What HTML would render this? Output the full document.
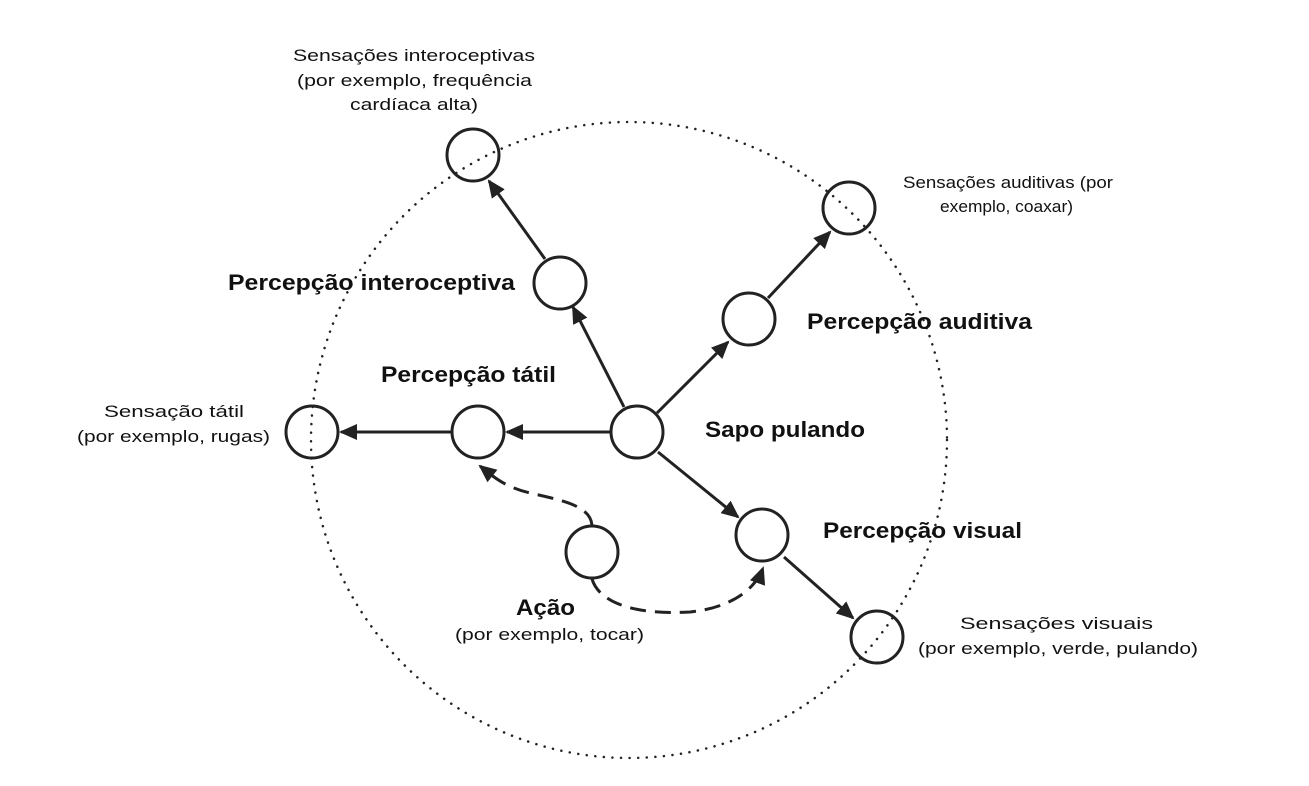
<!DOCTYPE html>
<html><head><meta charset="utf-8"><style>
html,body{margin:0;padding:0;background:#fff;}
svg{display:block;font-family:"Liberation Sans",Arial,sans-serif;}
.b{font-weight:bold;font-size:22px;fill:#111;}
.n{font-size:17px;fill:#111;}
</style></head><body>
<svg width="1309" height="786" viewBox="0 0 1309 786" xmlns="http://www.w3.org/2000/svg">
<defs>
<marker id="ab" markerWidth="18" markerHeight="18" refX="16" refY="9" orient="auto" markerUnits="userSpaceOnUse" viewBox="0 0 18 18">
<path d="M0,1 L18,9 L0,17 z" fill="#222"/>
</marker>
</defs>
<circle cx="629" cy="440" r="318" fill="none" stroke="#222" stroke-width="2.5" stroke-dasharray="0.1 8.5" stroke-linecap="round"/>
<g stroke="#222" stroke-width="3" fill="none">
<line x1="624" y1="407" x2="573" y2="307" marker-end="url(#ab)"/>
<line x1="545" y1="259" x2="489" y2="181" marker-end="url(#ab)"/>
<line x1="657" y1="413" x2="728" y2="342" marker-end="url(#ab)"/>
<line x1="768" y1="298" x2="830" y2="232" marker-end="url(#ab)"/>
<line x1="610" y1="432" x2="507" y2="432" marker-end="url(#ab)"/>
<line x1="451" y1="432" x2="341" y2="432" marker-end="url(#ab)"/>
<line x1="658" y1="452" x2="738" y2="517" marker-end="url(#ab)"/>
<line x1="784" y1="557" x2="853" y2="618" marker-end="url(#ab)"/>
<path d="M592,525 C590,505 560,500 530,493 C505,487 495,478 480,466" stroke-dasharray="16 9" marker-end="url(#ab)"/>
<path d="M592,579 C600,605 640,615 690,612 C730,608 755,590 763,568" stroke-dasharray="16 9" marker-end="url(#ab)"/>
</g>
<g fill="none" stroke="#222" stroke-width="3">
<circle cx="473" cy="155" r="26"/>
<circle cx="560" cy="283" r="26"/>
<circle cx="849" cy="208" r="26"/>
<circle cx="749" cy="319" r="26"/>
<circle cx="312" cy="432" r="26"/>
<circle cx="478" cy="432" r="26"/>
<circle cx="637" cy="432" r="26"/>
<circle cx="592" cy="552" r="26"/>
<circle cx="762" cy="535" r="26"/>
<circle cx="877" cy="637" r="26"/>
</g>
<g class="n">
<text x="293" y="61" textLength="242" lengthAdjust="spacingAndGlyphs">Sensações interoceptivas</text>
<text x="297" y="86" textLength="235" lengthAdjust="spacingAndGlyphs">(por exemplo, frequência</text>
<text x="350" y="110" textLength="128" lengthAdjust="spacingAndGlyphs">cardíaca alta)</text>
<text x="903" y="188" textLength="210" lengthAdjust="spacingAndGlyphs">Sensações auditivas (por</text>
<text x="940" y="212" textLength="133" lengthAdjust="spacingAndGlyphs">exemplo, coaxar)</text>
<text x="104" y="417" textLength="140" lengthAdjust="spacingAndGlyphs">Sensação tátil</text>
<text x="77" y="442" textLength="193" lengthAdjust="spacingAndGlyphs">(por exemplo, rugas)</text>
<text x="455" y="640" textLength="189" lengthAdjust="spacingAndGlyphs">(por exemplo, tocar)</text>
<text x="960" y="629" textLength="193" lengthAdjust="spacingAndGlyphs">Sensações visuais</text>
<text x="918" y="654" textLength="280" lengthAdjust="spacingAndGlyphs">(por exemplo, verde, pulando)</text>
</g>
<g class="b">
<text x="228" y="290" textLength="287" lengthAdjust="spacingAndGlyphs">Percepção interoceptiva</text>
<text x="807" y="329" textLength="225" lengthAdjust="spacingAndGlyphs">Percepção auditiva</text>
<text x="381" y="382" textLength="175" lengthAdjust="spacingAndGlyphs">Percepção tátil</text>
<text x="705" y="437" textLength="160" lengthAdjust="spacingAndGlyphs">Sapo pulando</text>
<text x="823" y="538" textLength="199" lengthAdjust="spacingAndGlyphs">Percepção visual</text>
<text x="516" y="615" textLength="59" lengthAdjust="spacingAndGlyphs">Ação</text>
</g>
</svg>
</body></html>
